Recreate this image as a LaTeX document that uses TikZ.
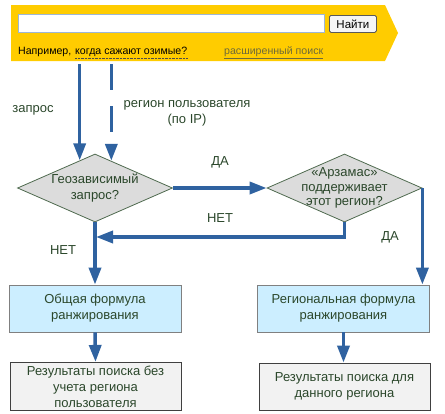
\documentclass[tikz,border=0pt]{standalone}
\usepackage{fontspec}
\setmainfont{Liberation Sans}
\usetikzlibrary{shapes.geometric,arrows.meta}

\definecolor{yabar}{HTML}{FFCC00}
\definecolor{flowblue}{HTML}{2F62A0}
\definecolor{txtgreen}{HTML}{2B472B}
\definecolor{askgray}{HTML}{DCDCDC}
\definecolor{askedge}{HTML}{4F6A4F}
\definecolor{formblue}{HTML}{CCEEFF}
\definecolor{resgray}{HTML}{F2F2F2}
\definecolor{linkgray}{HTML}{6E6A3A}
\definecolor{fieldedge}{HTML}{9DB6D6}

\begin{document}
\begin{tikzpicture}[x=1pt,y=-1pt,
		font=\fontsize{13}{16}\selectfont, text=txtgreen,
		flow/.style={draw=flowblue,line width=3.5pt,-{Triangle[length=17pt,width=12pt]}},
		ask/.style={diamond,draw=askedge,fill=askgray,line width=0.8pt,minimum width=155pt,minimum height=68pt,inner sep=0pt},
		formula/.style={draw=gray,fill=formblue,line width=0.8pt,minimum width=172pt,minimum height=47pt,align=center},
		result/.style={draw=black!75,fill=resgray,line width=0.8pt,minimum width=171pt,minimum height=47pt,align=center},
		small/.style={font=\fontsize{10.6}{13}\selectfont,inner sep=0pt}]

	\useasboundingbox (0,0) rectangle (445,413);

	% search bar
	\fill[yabar] (11,5) -- (385,5) -- (398,33) -- (385,61) -- (11,61) -- cycle;
	\node[draw=fieldedge,fill=white,line width=1pt,minimum width=306pt,minimum height=18pt,inner sep=0pt,anchor=north west] (field) at (18,14) {};
	\node[small,font=\fontsize{11.5}{13}\selectfont,draw=gray!70!black,rounded corners=1.5pt,fill=gray!8,line width=0.8pt,minimum width=47pt,minimum height=17pt,anchor=north west,text=black] (find) at (329,15) {Найти};
	\node[small,anchor=base west,text=black] (hint) at (18,54) {Например,};
	\node[small,anchor=base west,text=black] (sample) at ([xshift=3.5pt]hint.base east) {когда сажают озимые?};
	\draw[densely dotted,black!70] ([yshift=-1.5pt]sample.south west) -- ([yshift=-1.5pt]sample.south east);
	\node[small,anchor=base west,text=linkgray] (advanced) at (224,54) {расширенный поиск};
	\draw[linkgray,line width=0.6pt] ([yshift=-1.5pt]advanced.south west) -- ([yshift=-1.5pt]advanced.south east);

	% decisions
	\node[ask] (geo) at (95,188) {};
	\node[align=center] (geotext) at (geo) {Геозависимый\\запрос?};
	\node[ask] (arz) at (344.5,188) {};
	\node[align=center,font=\fontsize{13}{14.5}\selectfont] (arztext) at (arz) {«Арзамас»\\поддерживает\\этот регион?};

	% formulas and results
	\node[formula] (common) at (95,308.5) {Общая формула\\ранжирования};
	\node[formula] (regional) at (343.5,308.5) {Региональная формула\\ранжирования};
	\node[result] (plain) at (95.5,386.5) {Результаты поиска без\\учета региона\\пользователя};
	\node[result] (local) at (344.5,386.5) {Результаты поиска для\\данного региона};

	% inputs
	\coordinate (qin) at (80,64);
	\coordinate (ipin) at (111,64);
	\coordinate (merge) at (96,237);
	\node (querylbl) at (33,110) {запрос};
	\node[align=center] (iplbl) at (187,113) {регион пользователя\\(по IP)};

	\draw[flow] (geo.119 |- qin) -- (geo.119);
	\draw[flow,dash pattern=on 26pt off 16pt] (geo.59 |- ipin) -- (geo.59);
	\draw[flow] (geo.east) -- (arz.west);
	\draw[flow] (arz.south) |- (merge);
	\draw[flow] (geo.south) -- (common.north);
	\draw[flow] (arz.east) -- (arz.east |- regional.north);
	\draw[flow] (common.south) -- (plain.north);
	\draw[flow] (regional.south) -- (regional.south |- local.north);

	\node (yes1) at (220,162) {ДА};
	\node (no1) at (220,218) {НЕТ};
	\node (no2) at (63,250) {НЕТ};
	\node (yes2) at (390,237) {ДА};

\end{tikzpicture}
\end{document}
